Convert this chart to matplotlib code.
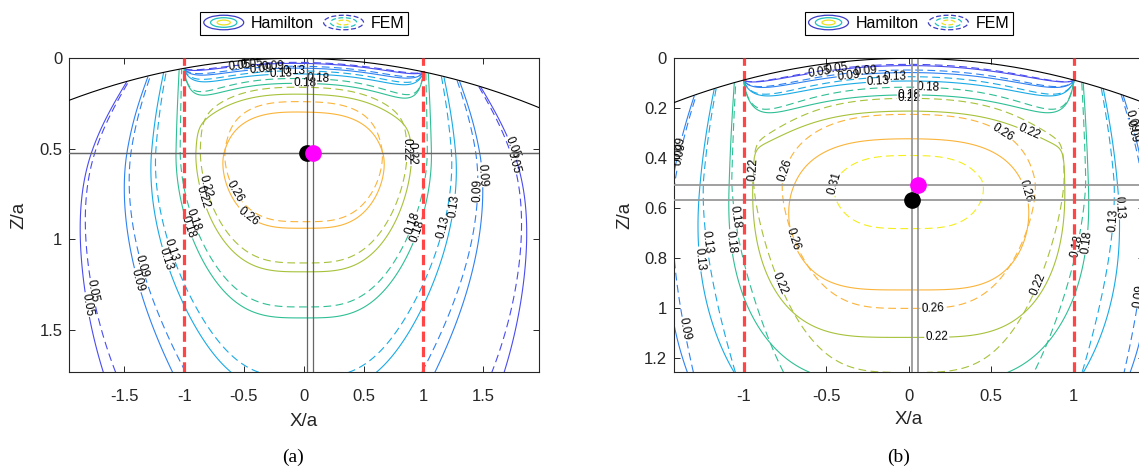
import numpy as np
import matplotlib
matplotlib.use("Agg")
import matplotlib.pyplot as plt
from matplotlib.patches import Ellipse
from matplotlib.legend_handler import HandlerBase

plt.rcParams['font.family'] = ['Liberation Sans', 'DejaVu Sans']
plt.rcParams['axes.unicode_minus'] = False

# contour levels (stress / p0) and their colours
levels = [0.05, 0.09, 0.13, 0.18, 0.22, 0.26, 0.31]
level_colors = ['#4a4cf0', '#2f82f2', '#19aae6', '#2fbf95', '#a6c23a', '#fbb43a', '#f3ee1c']

# field shape for each case:
# peak, z of peak, x half width, x sharpness, z depth scale, z sharpness, surface layer
ham_a = [0.305, 0.52, 1.20, 3.4, 1.12, 1.8, 0.155]
fem_a = [0.305, 0.50, 1.16, 3.3, 1.07, 1.8, 0.125]
ham_b = [0.300, 0.52, 1.22, 4.0, 0.93, 2.3, 0.160]
fem_b = [0.335, 0.48, 1.13, 3.6, 1.20, 1.5, 0.150]
coupling = 1.0             # how much depth and width decay together
depth_spread = 0.08        # slower depth decay away from the axis
edge_drop = [1.05, 0.25]   # decay of surface values outside the contact

# surface arc: radius, x of apex
surface_a = [7.8, -0.075]
surface_b = [5.8, 0.0]

# maxima positions (x, z): Hamilton (black), FEM (magenta)
ham_max_a = [0.03, 0.524]
fem_max_a = [0.075, 0.524]
ham_max_b = [0.018, 0.569]
fem_max_b = [0.055, 0.509]

xlim_a = [-1.962, 1.968]
zlim_a = [1.735, 0]
xlim_b = [-1.424, 1.426]
zlim_b = [1.258, 0]
xticks_a = [-1.5, -1, -0.5, 0, 0.5, 1, 1.5]
zticks_a = [0, 0.5, 1, 1.5]
xticks_b = [-1, -0.5, 0, 0.5, 1]
zticks_b = [0, 0.2, 0.4, 0.6, 0.8, 1, 1.2]


def surface(x, R, x0):
    return R - np.sqrt(R ** 2 - (x - x0) ** 2)


def stress_field(X, Z, p, surf):
    peak, zc, ax_, px, bz, pz, delta = p
    depth = Z - surface(X, *surf)
    d = np.clip(depth, 0, None)
    r = np.abs(X)
    A = (r / ax_) ** px
    bz_eff = bz * (1 + depth_spread * r ** 4)
    B = (np.clip(Z - zc, 0, None) / bz_eff) ** pz
    K = A + B + coupling * A * B
    d_in = delta * np.clip(1 - r ** 6, 1e-6, None) ** 0.7
    w_in = 1 - np.exp(-d / d_in)
    ws = np.clip(1 - edge_drop[0] * (r - 1), 0, 1)
    w_out = 1 - (1 - ws) * np.exp(-d / edge_drop[1])
    w = np.where(r < 1, w_in, w_out)
    f = peak * w / (1 + K)
    return np.ma.masked_where(depth < 0, f)


def label_spots(cs, ax, shift, spacing=230):
    # spread labels along every contour piece, MATLAB style
    pts = []
    for j, segs in enumerate(cs.allsegs):
        for seg in segs:
            if len(seg) < 3:
                continue
            d = ax.transData.transform(seg)
            L = np.concatenate([[0], np.cumsum(np.hypot(*np.diff(d, axis=0).T))])
            if L[-1] < 70:
                continue
            n = max(1, int(L[-1] // spacing))
            for k in range(n):
                fr = (k + 0.5) / n
                if n == 1:
                    fr = np.clip(0.5 + 0.09 * (j - 3) + shift, 0.12, 0.88)
                i = np.searchsorted(L, fr * L[-1])
                pts.append(tuple(seg[min(i, len(seg) - 1)]))
    return pts


class ContourKey:
    def __init__(self, ls):
        self.ls = ls


class HandlerEllipses(HandlerBase):
    def create_artists(self, legend, orig_handle, xdescent, ydescent,
                       width, height, fontsize, trans):
        cx = width / 2 - xdescent
        cy = height / 2 - ydescent
        arts = []
        for s, c in zip([1.0, 0.66, 0.33], ['#3c3cc4', '#22c2bc', '#ece21e']):
            e = Ellipse((cx, cy), width * s, height * 1.3 * s, fill=False,
                        edgecolor=c, lw=0.9, ls=orig_handle.ls, transform=trans)
            arts.append(e)
        return arts


fig = plt.figure(figsize=(11.39, 4.73), dpi=100)
ax_a = fig.add_axes([0.0608, 0.2129, 0.4124, 0.6638])
ax_b = fig.add_axes([0.5917, 0.2129, 0.4126, 0.6638])


def draw_panel(ax, xlim, zlim, ham, fem, surf, hmax, fmax, xticks, zticks, cross_c, cross_lw):
    ax.set_xlim(xlim)
    ax.set_ylim(zlim)
    x = np.linspace(xlim[0], xlim[1], 500)
    z = np.linspace(0, zlim[0], 400)
    X, Z = np.meshgrid(x, z)
    for p, ls, sh in [(ham, 'solid', 0.0), (fem, (0, (7, 4)), 0.05)]:
        F = stress_field(X, Z, p, surf)
        cs = ax.contour(X, Z, F, levels=levels, colors=level_colors,
                        linewidths=0.8, linestyles=[ls])
        ax.clabel(cs, fmt='%.2f', fontsize=8.5, inline=True, inline_spacing=1,
                  colors='k', manual=label_spots(cs, ax, sh))

    for pt in [hmax, fmax]:
        ax.axvline(pt[0], color=cross_c, lw=cross_lw, zorder=4)
        ax.axhline(pt[1], color=cross_c, lw=cross_lw, zorder=4)
    for xe in [-1, 1]:
        ax.axvline(xe, color='#ff4545', lw=2.3, ls=(0, (3.2, 1.6)), zorder=5)
    ax.plot(x, surface(x, *surf), color='k', lw=0.8, zorder=6)
    ax.plot(hmax[0], hmax[1], 'o', color='k', ms=11, zorder=7)
    ax.plot(fmax[0], fmax[1], 'o', color='#ff00ff', ms=11, zorder=8)

    ax.set_xlim(xlim)
    ax.set_ylim(zlim)
    ax.set_xticks(xticks)
    ax.set_xticklabels(['%g' % v for v in xticks])
    ax.set_yticks(zticks)
    ax.set_yticklabels(['%g' % v for v in zticks])
    ax.tick_params(direction='in', length=4, width=0.7, top=True, right=True,
                   labelsize=12, colors='#262626')
    ax.tick_params(axis='x', pad=12)
    ax.tick_params(axis='y', pad=5)
    for s in ax.spines.values():
        s.set_color('#262626')
        s.set_linewidth(0.8)

    leg = ax.legend([ContourKey('solid'), ContourKey((0, (4, 2)))], ['Hamilton', 'FEM'],
                    handler_map={ContourKey: HandlerEllipses()},
                    loc='lower center', bbox_to_anchor=(0.5, 1.074), ncol=2,
                    fontsize=11.5, frameon=True, fancybox=False, framealpha=1,
                    edgecolor='k', borderpad=0.25, handlelength=2.5,
                    handletextpad=0.45, columnspacing=0.6, borderaxespad=0)
    leg.get_frame().set_linewidth(0.8)


draw_panel(ax_a, xlim_a, zlim_a, ham_a, fem_a, surface_a, ham_max_a, fem_max_a,
           xticks_a, zticks_a, '0.4', 0.9)
draw_panel(ax_b, xlim_b, zlim_b, ham_b, fem_b, surface_b, ham_max_b, fem_max_b,
           xticks_b, zticks_b, '0.6', 1.3)

W, H = 1139.0, 473.0
for cx, cy in [(303.5, 421), (908.5, 420)]:
    fig.text(cx / W, 1 - cy / H, 'X/a', ha='center', va='center', fontsize=13.5, color='#262626')
for cx in [19, 625]:
    fig.text(cx / W, 1 - 215 / H, 'Z/a', ha='center', va='center', rotation=90,
             fontsize=13.5, color='#262626')
for cx, t in [(293, '(a)'), (898.7, '(b)')]:
    fig.text(cx / W, 1 - 457 / H, t, ha='center', va='center', fontsize=14,
             family=['Liberation Serif', 'DejaVu Serif'])

fig.savefig('out.png', dpi=100)
